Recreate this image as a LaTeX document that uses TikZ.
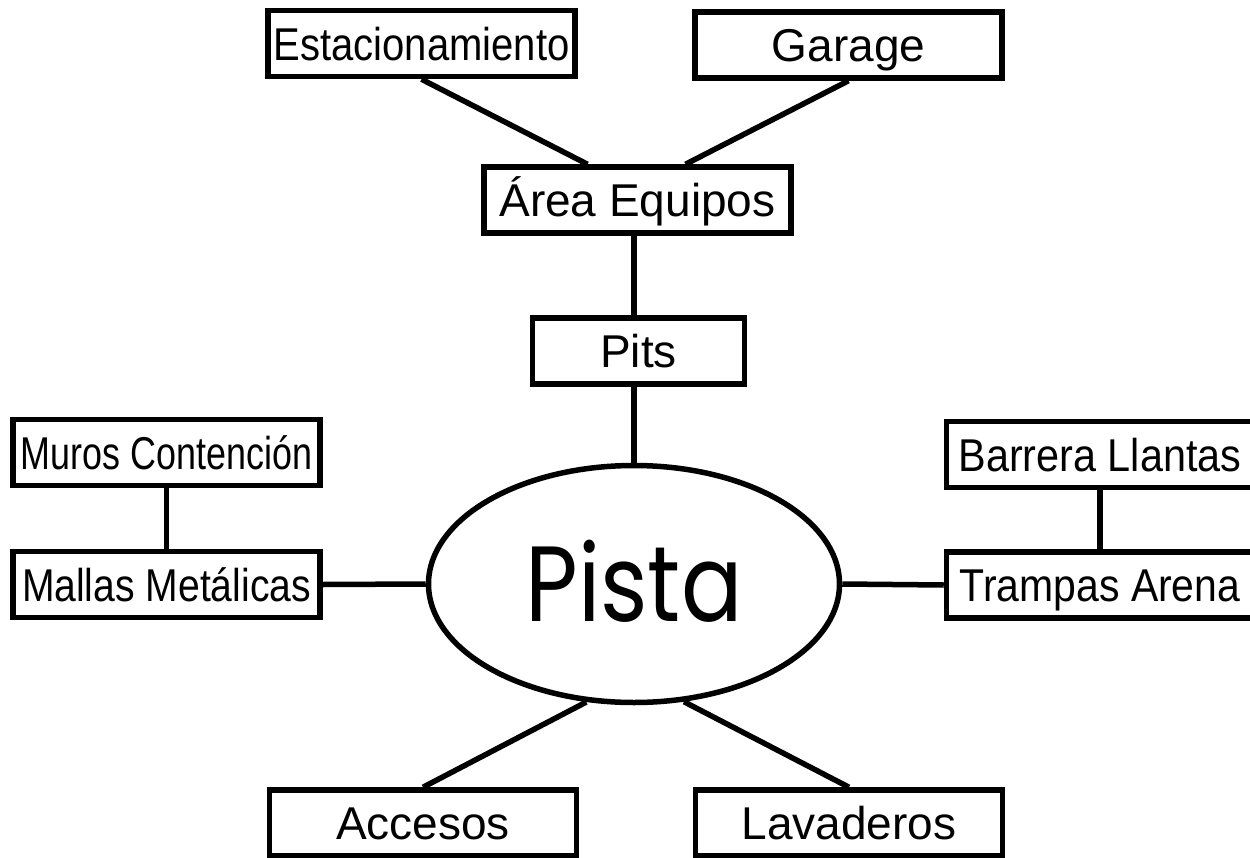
\documentclass[tikz,border=0pt]{standalone}
\usepackage{fontspec}
\setmainfont{Liberation Sans}
\newfontfamily\pistafont{Poppins}
\usetikzlibrary{shapes.geometric}
\begin{document}
\begin{tikzpicture}[x=1bp,y=-1bp,
  box/.style={draw, line width=5.5bp, minimum width=307bp, minimum height=66bp,
    inner sep=0pt, text height=33bp, text depth=0pt,
    font=\fontsize{46bp}{55bp}\selectfont},
  oval/.style={draw, ellipse, line width=5.5bp, minimum width=411bp, minimum height=237bp,
    inner sep=0pt, text height=75bp, text depth=0pt,
    font=\pistafont\fontsize{107bp}{120bp}\selectfont},
  link/.style={line width=5.5bp}]
\useasboundingbox (0,0) rectangle (1250,858);
\clip (0,0) rectangle (1250,858);
\fill[white] (0,0) rectangle (1250,858);

\node[box] (est) at (421.5,43.5) {\scalebox{0.87}[1]{Estacionamiento}};
\node[box] (garage) at (848.5,45) {Garage};
\node[box] (ae) at (637.5,200) {Área Equipos};
\node[box, minimum width=212bp] (pits) at (638.5,351) {Pits};
\node[box] (muros) at (166.5,452.5) {\scalebox{0.78}[1]{Muros Contención}};
\node[box] (mallas) at (166.5,584.5) {\scalebox{0.85}[1]{Mallas Metálicas}};
\node[box] (barrera) at (1100,454.5) {\scalebox{0.9}[1]{Barrera Llantas}};
\node[box] (trampas) at (1100,585) {\scalebox{0.89}[1]{Trampas Arena}};
\node[box] (acc) at (423,823) {Accesos};
\node[box] (lav) at (849,823) {Lavaderos};
\node[oval] (pista) at (634,584) {\scalebox{0.85}[1]{Pista}};

\draw[link] (est.south) -- ([xshift=-50bp]ae.north);
\draw[link] (garage.south) -- ([xshift=48bp]ae.north);
\draw[link] (ae.south -| pista.north) -- (pits.north -| pista.north);
\draw[link] (pits.south -| pista.north) -- (pista.north);
\draw[link] (muros.south) -- (mallas.north);
\draw[link] (mallas.east) -- (pista.west);
\draw[link] (pista.east) -- (trampas.west);
\draw[link] (barrera.south) -- (trampas.north);
\draw[link] (pista.248) -- (acc.north);
\draw[link] (pista.293) -- (lav.north);
\end{tikzpicture}
\end{document}
